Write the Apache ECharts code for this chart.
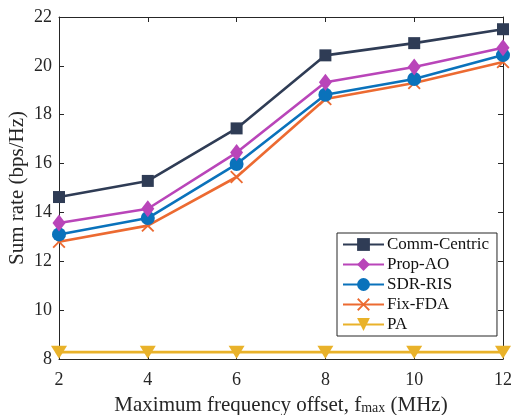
<!DOCTYPE html>
<html>
<head>
<meta charset="utf-8">
<script src="https://cdn.jsdelivr.net/npm/echarts@6/dist/echarts.min.js"></script>
<style>
html, body { margin: 0; padding: 0; background: #fff; }
#chart { width: 512px; height: 415px; }
</style>
</head>
<body>
<div id="chart"></div>
<script>
// values
var fmax = [2, 4, 6, 8, 10, 12];
var commCentric = [14.63, 15.29, 17.44, 20.43, 20.93, 21.5];
var propAO = [13.57, 14.15, 16.45, 19.33, 19.95, 20.74];
var sdrRIS = [13.1, 13.77, 15.98, 18.82, 19.46, 20.44];
var fixFDA = [12.8, 13.46, 15.45, 18.64, 19.3, 20.16];
var pa = [8.28, 8.28, 8.28, 8.28, 8.28, 8.28];

var seriesNames = ["Comm-Centric", "Prop-AO", "SDR-RIS", "Fix-FDA", "PA"];
var seriesColors = ["#2f3c55", "#b945b9", "#0a72bb", "#ec6a31", "#e9b22a"];
var seriesSymbols = ["rect",
    "path://M7,0 L14,9 L7,18 L0,9 Z",
    "circle",
    "path://M2,0 L10,8 L18,0 L20,2 L12,10 L20,18 L18,20 L10,12 L2,20 L0,18 L8,10 L0,2 Z",
    "path://M0,0 L20,0 L10,16 Z"];
var symbolSizes = [12, [13, 17], 14, 13, [16, 13]];
var allData = [commCentric, propAO, sdrRIS, fixFDA, pa];

var font = "Liberation Serif";

function pairs(ys) {
    var out = [];
    for (var i = 0; i < fmax.length; i++) {
        out.push([fmax[i], ys[i]]);
    }
    return out;
}

var series = [];
for (var i = 0; i < seriesNames.length; i++) {
    series.push({
        name: seriesNames[i],
        type: 'line',
        data: pairs(allData[i]),
        symbol: seriesSymbols[i],
        symbolSize: symbolSizes[i],
        showAllSymbol: true,
        clip: false,
        z: 10 - i,
        lineStyle: { color: seriesColors[i], width: 2.6 },
        itemStyle: { color: seriesColors[i] }
    });
}

var axisLine = { show: true, lineStyle: { color: '#262626', width: 1 } };
var tickStyle = { show: true, inside: true, length: 5, lineStyle: { color: '#262626' } };

var chart = echarts.init(document.getElementById('chart'));
chart.setOption({
    animation: false,
    backgroundColor: '#fff',
    grid: { left: 59, right: 9, top: 17, bottom: 56, containLabel: false, outerBoundsMode: 'none' },
    legend: {
        data: seriesNames,
        orient: 'vertical',
        left: 337,
        top: 233,
        itemWidth: 41,
        itemHeight: 16,
        itemGap: 3,
        padding: [3, 8, 3, 5],
        backgroundColor: '#fff',
        borderColor: '#262626',
        borderWidth: 1,
        borderRadius: 0,
        textStyle: { fontFamily: font, fontSize: 17, color: '#111', padding: [0, 0, 0, -2] }
    },
    xAxis: [{
        type: 'value',
        min: 2, max: 12, interval: 2,
        name: '{n|Maximum frequency offset, f}{s|max}{n| (MHz)}',
        nameLocation: 'middle',
        nameGap: 36,
        nameMoveOverlap: false,
        nameTextStyle: {
            rich: {
                n: { fontFamily: font, fontSize: 21, color: '#262626' },
                s: { fontFamily: font, fontSize: 14, color: '#262626', padding: [6, 0, 0, 0] }
            }
        },
        axisLine: axisLine,
        axisTick: tickStyle,
        splitLine: { show: false },
        axisLabel: { fontFamily: font, fontSize: 18, color: '#262626', margin: 12 }
    }, {
        type: 'value', position: 'top',
        min: 2, max: 12, interval: 2,
        axisLine: axisLine,
        axisTick: tickStyle,
        axisLabel: { show: false },
        splitLine: { show: false }
    }],
    yAxis: [{
        type: 'value',
        min: 8, max: 22, interval: 2,
        name: 'Sum rate (bps/Hz)',
        nameLocation: 'middle',
        nameGap: 31,
        nameMoveOverlap: false,
        nameTextStyle: { fontFamily: font, fontSize: 21, color: '#262626' },
        axisLine: axisLine,
        axisTick: tickStyle,
        splitLine: { show: false },
        axisLabel: { fontFamily: font, fontSize: 18, color: '#262626', margin: 7 }
    }, {
        type: 'value', position: 'right',
        min: 8, max: 22, interval: 2,
        axisLine: axisLine,
        axisTick: tickStyle,
        axisLabel: { show: false },
        splitLine: { show: false }
    }],
    series: series
});
</script>
</body>
</html>
